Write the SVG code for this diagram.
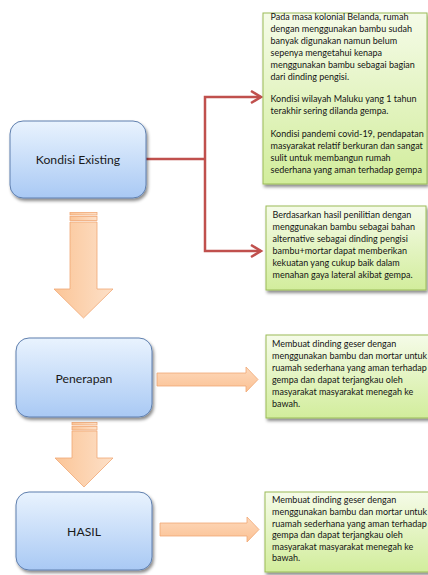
<svg xmlns="http://www.w3.org/2000/svg" width="428" height="575" viewBox="0 0 428 575">
<defs>
  <linearGradient id="gBlue" x1="0" y1="0" x2="0" y2="1">
    <stop offset="0" stop-color="#e9f3fe"/>
    <stop offset="1" stop-color="#a9c9f4"/>
  </linearGradient>
  <linearGradient id="gGreen" x1="0" y1="0" x2="0" y2="1">
    <stop offset="0" stop-color="#f5fbe8"/>
    <stop offset="1" stop-color="#d2ed9c"/>
  </linearGradient>
  <linearGradient id="gOrangeH" x1="0" y1="0" x2="1" y2="0">
    <stop offset="0" stop-color="#fbc597"/>
    <stop offset="1" stop-color="#fde0c8"/>
  </linearGradient>
  <linearGradient id="gOrangeV" x1="0" y1="0" x2="0" y2="1">
    <stop offset="0" stop-color="#fdd9bc"/>
    <stop offset="1" stop-color="#fbc193"/>
  </linearGradient>
  <filter id="shadow" x="-10%" y="-10%" width="130%" height="130%">
    <feDropShadow dx="1.5" dy="2.5" stdDeviation="1.6" flood-color="#000" flood-opacity="0.45"/>
  </filter>
  <marker id="openArrow" markerUnits="userSpaceOnUse" markerWidth="14" markerHeight="16" refX="11" refY="7" orient="auto">
    <path d="M1,1 L11,7 L1,13" fill="none" stroke="#c0504d" stroke-width="2.5" stroke-linejoin="miter"/>
  </marker>
  <style>
    .blue { fill: url(#gBlue); stroke: #5f7fae; stroke-width: 1; filter: url(#shadow); }
    .green { fill: url(#gGreen); stroke: #9bbb59; stroke-width: 1; filter: url(#shadow); }
    .orH { fill: url(#gOrangeH); stroke: #f0a774; stroke-width: 0.8; }
    .orV { fill: url(#gOrangeV); stroke: #f0a774; stroke-width: 0.8; }
    .label { font-family: Lato, "Liberation Sans", sans-serif; font-size: 12.2px; fill: #1a1a1a; text-anchor: middle; dominant-baseline: central; }
    .body { font-family: Lato, "Liberation Sans", sans-serif; font-size: 9px; fill: #141414; }
    .conn { fill: none; stroke: #c0504d; stroke-width: 2.5; }
  </style>
</defs>

<g id="connectors">
  <path class="conn" d="M146,159 H205"/>
  <path class="conn" d="M205,159 V97 H261" marker-end="url(#openArrow)"/>
  <path class="conn" d="M205,159 V251 H261" marker-end="url(#openArrow)"/>
  <g id="arrow-down-1">
    <rect class="orH" x="70" y="212.5" width="27" height="2.5"/>
    <rect class="orH" x="70" y="216.5" width="27" height="4"/>
    <polygon class="orH" points="70,222 97,222 97,289 113,289 83.5,318 54,289 70,289"/>
  </g>
  <g id="arrow-down-2">
    <rect class="orH" x="72" y="422.5" width="25" height="2.5"/>
    <rect class="orH" x="72" y="426.5" width="25" height="3.5"/>
    <polygon class="orH" points="72,431 97,431 97,458 113,458 84,487 55,458 72,458"/>
  </g>
  <polygon id="arrow-right-1" class="orV" points="157,373 246,373 246,367 258,379.5 246,392 246,386 157,386"/>
  <polygon id="arrow-right-2" class="orV" points="160,523 247,523 247,517 259,529.5 247,542 247,536 160,536"/>
</g>

<g id="node-kondisi">
  <rect class="blue" x="10" y="121" width="136" height="77" rx="13" ry="13"/>
  <text class="label" x="78" y="159.5">Kondisi Existing</text>
</g>

<g id="node-penerapan">
  <rect class="blue" x="16" y="338" width="136" height="79" rx="13" ry="13"/>
  <text class="label" x="84" y="378">Penerapan</text>
</g>

<g id="node-hasil">
  <rect class="blue" x="16" y="492" width="136" height="78" rx="13" ry="13"/>
  <text class="label" x="84" y="531.5">HASIL</text>
</g>

<g id="note-1">
  <rect class="green" x="263" y="13" width="164" height="171"/>
  <text class="body">
    <tspan x="270.5" y="20">Pada masa kolonial Belanda, rumah</tspan>
    <tspan x="270.5" y="32">dengan menggunakan bambu sudah</tspan>
    <tspan x="270.5" y="44">banyak digunakan namun belum</tspan>
    <tspan x="270.5" y="56">sepenya mengetahui kenapa</tspan>
    <tspan x="270.5" y="68">menggunakan bambu sebagai bagian</tspan>
    <tspan x="270.5" y="80">dari dinding pengisi.</tspan>
    <tspan x="270.5" y="101.5">Kondisi wilayah Maluku yang 1 tahun</tspan>
    <tspan x="270.5" y="113.5">terakhir sering dilanda gempa.</tspan>
    <tspan x="270.5" y="136.5">Kondisi pandemi covid-19, pendapatan</tspan>
    <tspan x="270.5" y="148.5">masyarakat relatif berkuran dan sangat</tspan>
    <tspan x="270.5" y="160.5">sulit untuk membangun rumah</tspan>
    <tspan x="270.5" y="172.5">sederhana yang aman terhadap gempa</tspan>
  </text>
</g>

<g id="note-2">
  <rect class="green" x="266" y="206" width="160" height="84"/>
  <text class="body">
    <tspan x="272.5" y="218">Berdasarkan hasil penilitian dengan</tspan>
    <tspan x="272.5" y="230">menggunakan bambu sebagai bahan</tspan>
    <tspan x="272.5" y="242">alternative sebagai dinding pengisi</tspan>
    <tspan x="272.5" y="254">bambu+mortar dapat memberikan</tspan>
    <tspan x="272.5" y="266">kekuatan yang cukup baik dalam</tspan>
    <tspan x="272.5" y="278">menahan gaya lateral akibat gempa.</tspan>
  </text>
</g>

<g id="note-3">
  <rect class="green" x="266" y="335" width="164" height="83"/>
  <text class="body">
    <tspan x="272" y="347">Membuat dinding geser dengan</tspan>
    <tspan x="272" y="359">menggunakan bambu dan mortar untuk</tspan>
    <tspan x="272" y="371">ruamah sederhana yang aman terhadap</tspan>
    <tspan x="272" y="383">gempa dan dapat terjangkau oleh</tspan>
    <tspan x="272" y="395">masyarakat masyarakat menegah ke</tspan>
    <tspan x="272" y="407">bawah.</tspan>
  </text>
</g>

<g id="note-4">
  <rect class="green" x="265" y="492" width="165" height="80"/>
  <text class="body">
    <tspan x="272" y="503">Membuat dinding geser dengan</tspan>
    <tspan x="272" y="515">menggunakan bambu dan mortar untuk</tspan>
    <tspan x="272" y="526.5">ruamah sederhana yang aman terhadap</tspan>
    <tspan x="272" y="538">gempa dan dapat terjangkau oleh</tspan>
    <tspan x="272" y="549.5">masyarakat masyarakat menegah ke</tspan>
    <tspan x="272" y="561">bawah.</tspan>
  </text>
</g>
</svg>
